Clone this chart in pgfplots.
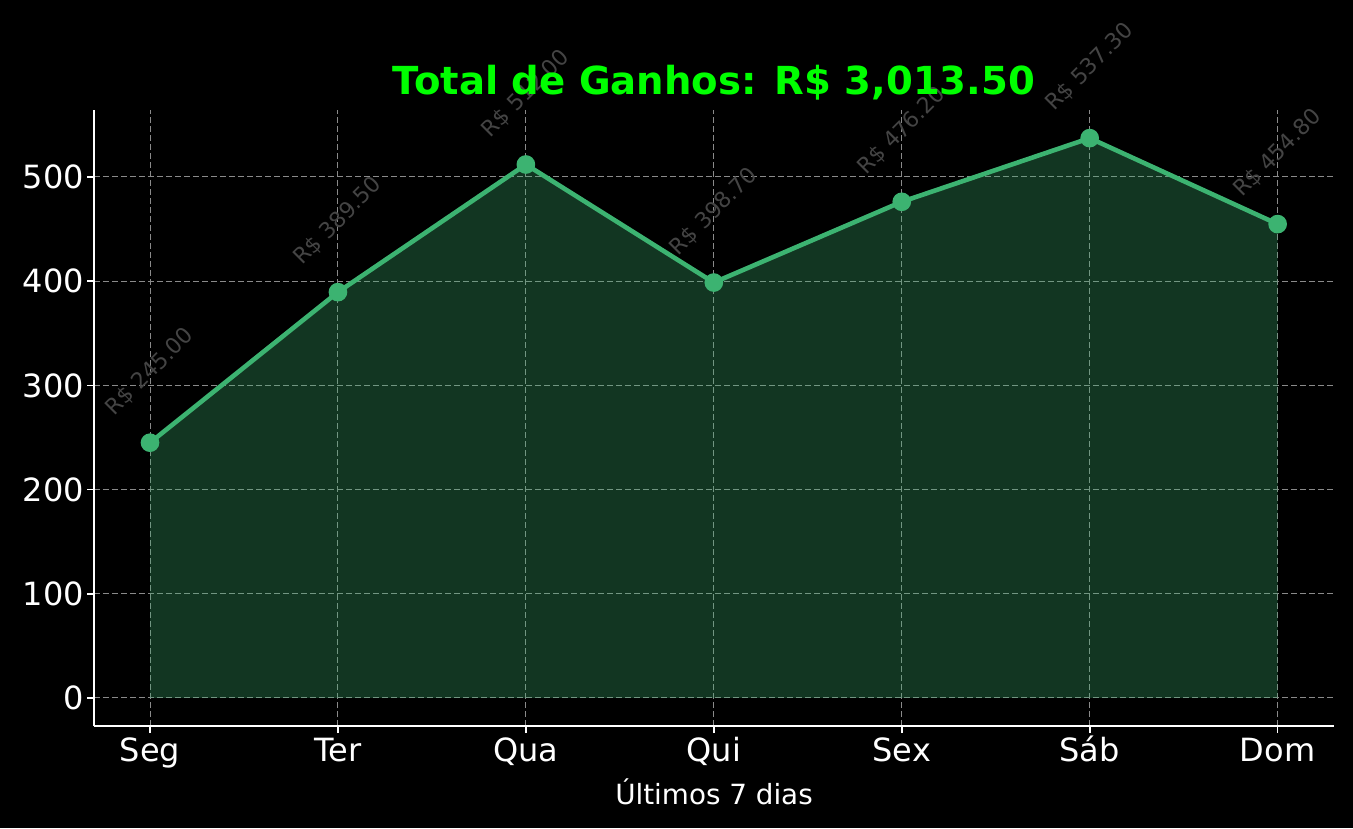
\documentclass[border=0pt]{standalone}
\usepackage{pgfplots}
\pgfplotsset{compat=1.18}
\usepackage{fontspec}
\setmainfont{DejaVu Sans}
\usetikzlibrary{backgrounds}
\definecolor{lg}{HTML}{3CB371}
\definecolor{limec}{HTML}{00FF00}
\definecolor{annot}{HTML}{444444}
\definecolor{gridc}{HTML}{8A8A8A}
\begin{document}
\begin{tikzpicture}
\begin{axis}[name=ax, scale only axis, width=620pt, height=308pt,
 xmin=-0.298, xmax=6.30, ymin=-26.9, ymax=564.3,
 axis x line*=bottom, axis y line*=left,
 axis line style={-, white, line width=1pt},
 xtick={0,...,6}, xticklabels={Seg,Ter,Qua,Qui,Sex,Sáb,Dom},
 ytick={0,100,...,500},
 tick align=outside, major tick length=3.5pt,
 tick style={white, line width=0.8pt},
 ticklabel style={font=\fontsize{16}{19}\selectfont, text=white},
 xticklabel style={anchor=base, yshift=-14pt},
 yticklabel style={xshift=2pt},
 /pgf/number format/assume math mode=true,
 grid=major, grid style={gridc, dash pattern=on 3pt off 1.5pt, line width=0.5pt},
 xlabel={Últimos 7 dias},
 xlabel style={at={(0.5,0)}, anchor=center, yshift=-33pt, font=\fontsize{13.9}{16}\selectfont, text=white},
 title={Total de Ganhos: R\$ 3,013.50},
 title style={at={(0.5,1)}, anchor=base, yshift=1.5pt, font=\bfseries\fontsize{19.3}{23}\selectfont, text=limec},
 clip=false,
]
\addplot[draw=none, fill=lg, fill opacity=0.3] coordinates {
 (0,245.00) (1,389.50) (2,512.00) (3,398.70) (4,476.20) (5,537.30) (6,454.80)
} \closedcycle;
\addplot[lg, line width=2.3pt, mark=*, mark size=3.5pt, mark options={fill=lg, draw=lg},
 point meta=explicit symbolic, nodes near coords,
 nodes near coords style={anchor=center, yshift=35.5pt, rotate=45, text=annot, font=\fontsize{11}{13}\selectfont}]
 coordinates {
 (0,245.00) [R\$ 245.00]
 (1,389.50) [R\$ 389.50]
 (2,512.00) [R\$ 512.00]
 (3,398.70) [R\$ 398.70]
 (4,476.20) [R\$ 476.20]
 (5,537.30) [R\$ 537.30]
 (6,454.80) [R\$ 454.80]
};
\end{axis}
\begin{scope}[on background layer]
\fill[black] ([shift={(-47pt,-51pt)}]ax.south west) rectangle ([shift={(9.5pt,55pt)}]ax.north east);
\end{scope}
\end{tikzpicture}
\end{document}
